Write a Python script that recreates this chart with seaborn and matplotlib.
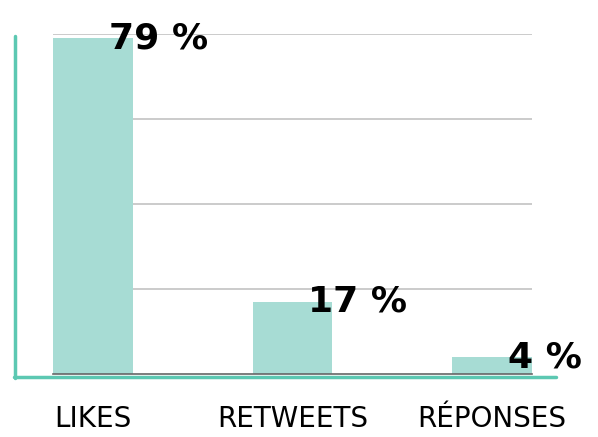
# bar chart of twitter interactions
import matplotlib
matplotlib.use('Agg')
import matplotlib.pyplot as plt
import seaborn as sns
import pandas as pd
from matplotlib.lines import Line2D

# data
categories = ['LIKES', 'RETWEETS', 'RÉPONSES']
shares = [79, 17, 4]
label_texts = ['79 %', '17 %', '4 %']

df = pd.DataFrame({'type': categories, 'share': shares})

sns.set_theme(style='white')
plt.rcParams['font.family'] = ['DejaVu Sans']

fig = plt.figure(figsize=(5.98, 4.37), dpi=100)
ax = fig.add_axes([53 / 598, 1 - 374 / 437, (532 - 53) / 598, (374 - 34) / 437])

sns.barplot(data=df, x='type', y='share', color='#a7dcd4', width=0.4,
            saturation=1, linewidth=0, ax=ax, zorder=2)

ax.set_xlim(-0.2, 2.2)
ax.set_ylim(0, 80)
ax.set_yticks([20, 40, 60, 80])
ax.yaxis.grid(True, color='#c2c2c2', linewidth=1.2, zorder=0)
ax.set_axisbelow(True)
ax.tick_params(axis='y', left=False, labelleft=False)
ax.tick_params(axis='x', bottom=False, pad=16, labelsize=20, labelcolor='black')
ax.set_xlabel('')
ax.set_ylabel('')
for s in ['top', 'right', 'left']:
    ax.spines[s].set_visible(False)
ax.spines['bottom'].set_color('#666666')
ax.spines['bottom'].set_linewidth(1.2)

# value labels next to each bar
for i, (v, t) in enumerate(zip(shares, label_texts)):
    ax.text(i + 0.08, v, t, ha='left', va='center', fontsize=26,
            fontweight='bold', color='black', zorder=5)

# teal frame lines outside of the plot area
fig.add_artist(Line2D([15 / 598, 15 / 598], [1 - 378 / 437, 1 - 36 / 437],
                      color='#5cc8b2', linewidth=2.5))
fig.add_artist(Line2D([14 / 598, 556 / 598], [1 - 377 / 437, 1 - 377 / 437],
                      color='#5cc8b2', linewidth=2.5))

fig.savefig('out.png', dpi=100)
